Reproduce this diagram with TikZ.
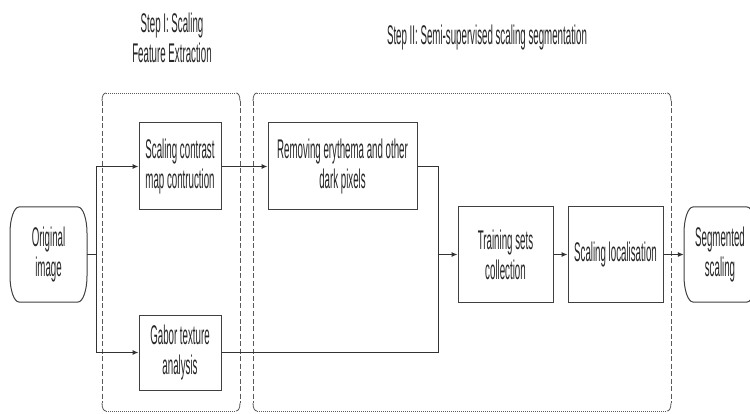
\documentclass[tikz,border=0pt]{standalone}
\usepackage{fontspec}
\setmainfont{Liberation Sans}[FakeStretch=0.36]
\usetikzlibrary{arrows.meta}
\newcommand\groupframe[4]{%
  \draw[hdash] (#1+4,#2) -- (#3-4,#2);
  \draw[hdash] (#1+4,#4) -- (#3-4,#4);
  \draw[vdash] (#1,#2+8) -- (#1,#4-8);
  \draw[vdash] (#3,#2+8) -- (#3,#4-8);
  \draw[framecorner] (#1,#2+8) .. controls (#1,#2+3) and (#1+1.5,#2) .. (#1+4,#2);
  \draw[framecorner] (#3,#2+8) .. controls (#3,#2+3) and (#3-1.5,#2) .. (#3-4,#2);
  \draw[framecorner] (#1,#4-8) .. controls (#1,#4-3) and (#1+1.5,#4) .. (#1+4,#4);
  \draw[framecorner] (#3,#4-8) .. controls (#3,#4-3) and (#3-1.5,#4) .. (#3-4,#4);
}
\newcommand\capsuleoutline[4]{%
  \draw[termline] (#1+9,#2) -- (#3-9,#2)
    .. controls (#3-4,#2) and (#3,#2+12) .. (#3,#2+26) -- (#3,#4-26)
    .. controls (#3,#4-12) and (#3-4,#4) .. (#3-9,#4) -- (#1+9,#4)
    .. controls (#1+4,#4) and (#1,#4-12) .. (#1,#4-26) -- (#1,#2+26)
    .. controls (#1,#2+12) and (#1+4,#2) .. (#1+9,#2) -- cycle;
}
\tikzset{
  txt/.style={font=\fontsize{27}{30}\selectfont, align=center, text=black!85, inner sep=0pt},
  stepbox/.style={txt, draw=black!75, line width=1pt, fill=white},
  termnode/.style={txt, draw=none},
  termline/.style={draw=black!75, line width=1pt},
  hdash/.style={draw=black!65, line width=0.8pt, dash pattern=on 1pt off 1pt},
  vdash/.style={draw=black!65, line width=0.8pt, dash pattern=on 5pt off 2.5pt},
  framecorner/.style={draw=black!65, line width=0.8pt},
  conn/.style={draw=black!80, line width=1pt},
  arr/.style={conn, -{Latex[length=6pt,width=5pt]}},
}
\begin{document}
\begin{tikzpicture}[x=1pt,y=-1pt]
\useasboundingbox (0,0) rectangle (750,414);
\fill[white] (0,0) rectangle (750,414);

% group frames
\groupframe{102}{93}{240}{411}
\groupframe{253}{93}{671}{411}

% titles
\node[txt] (t1) at (172,38) {Step I: Scaling\\Feature Extraction};
\node[txt, anchor=base] (t2) at (487,45) {Step II: Semi-supervised scaling segmentation};

% terminators
\node[termnode, minimum width=77pt, minimum height=95pt] (orig) at (48.5,254.5) {Original\\image};
\capsuleoutline{10}{207}{87}{302}
\begin{scope}
\clip (0,0) rectangle (750,414);
\node[termnode, minimum width=72pt, minimum height=95pt] (seg) at (720,254.5) {Segmented\\scaling};
\capsuleoutline{684}{207}{756}{302}
\end{scope}

% process boxes
\node[stepbox, minimum width=82pt, minimum height=87pt] (sc) at (180,166.5) {Scaling contrast\\map contruction};
\node[stepbox, minimum width=82pt, minimum height=75pt] (gab) at (180,352.5) {Gabor texture\\analysis};
\node[stepbox, minimum width=149pt, minimum height=87pt] (rem) at (342.5,166.5) {Removing erythema and other\\dark pixels};
\node[stepbox, minimum width=95pt, minimum height=95pt] (train) at (505.5,254.5) {Training sets\\collection};
\node[stepbox, minimum width=95pt, minimum height=95pt] (loc) at (615.5,254.5) {Scaling localisation};

% connectors
\coordinate (split) at (96,254.5);
\coordinate (join) at (438,254.5);
\draw[conn] (orig.east) -- (split);
\draw[arr] (split) |- (sc.west);
\draw[arr] (split) |- (gab.west);
\draw[arr] (sc.east) -- (rem.west);
\draw[conn] (rem.east) -| (join);
\draw[conn] (gab.east) -| (join);
\draw[arr] (join) -- (train.west);
\draw[arr] (train.east) -- (loc.west);
\draw[arr] (loc.east) -- (seg.west);
\end{tikzpicture}
\end{document}
